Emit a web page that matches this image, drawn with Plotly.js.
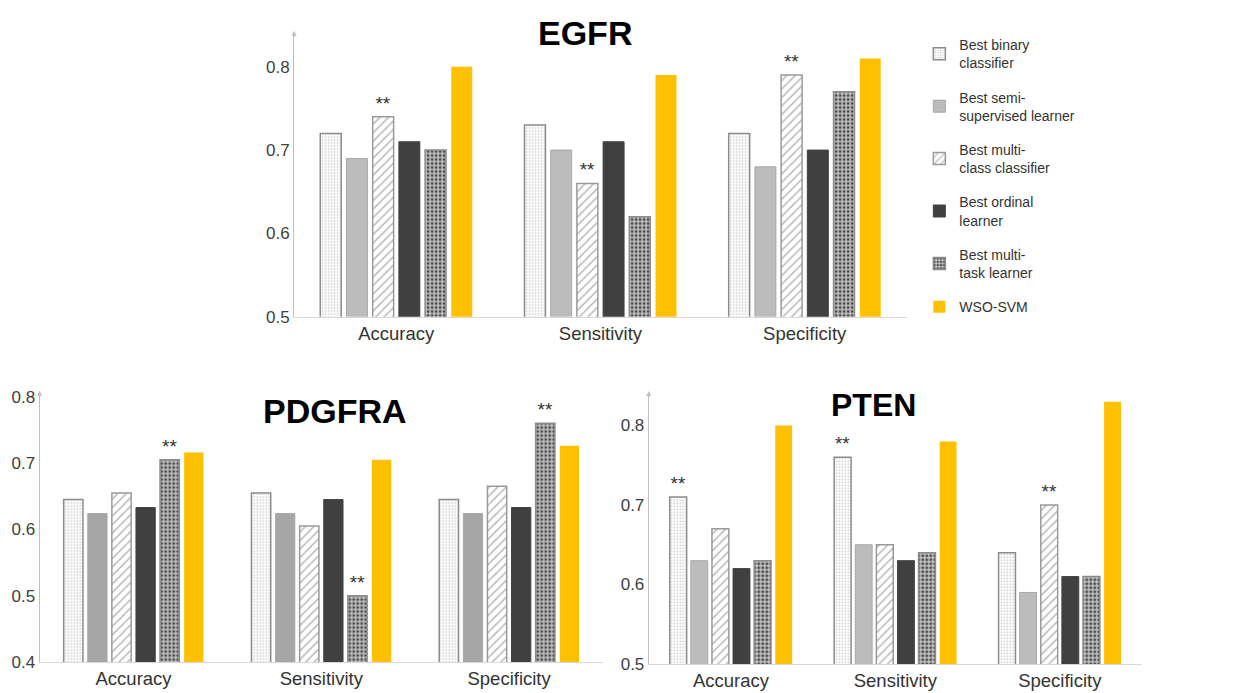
<!DOCTYPE html>
<html><head><meta charset="utf-8">
<script src="https://cdn.plot.ly/plotly-3.0.1.min.js"></script>
<style>html,body{margin:0;padding:0;background:#fff;}#chart{width:1239px;height:693px;}</style>
</head><body><div id="chart"></div>
<script>
const categories = ["Accuracy", "Sensitivity", "Specificity"];
const seriesNames = ["Best binary<br>classifier", "Best semi-<br>supervised learner", "Best multi-<br>class classifier", "Best ordinal<br>learner", "Best multi-<br>task learner", "WSO-SVM"];

// EGFR
const egfrBinary    = [0.72, 0.73, 0.72];
const egfrSemi      = [0.69, 0.70, 0.68];
const egfrMultiClass= [0.74, 0.66, 0.79];
const egfrOrdinal   = [0.71, 0.71, 0.70];
const egfrMultiTask = [0.70, 0.62, 0.77];
const egfrWSO       = [0.80, 0.79, 0.81];
const egfrStars     = [[], [], [0,1,2], [], [], []];

// PDGFRA
const pdgfraBinary    = [0.645, 0.655, 0.645];
const pdgfraSemi      = [0.624, 0.624, 0.624];
const pdgfraMultiClass= [0.655, 0.605, 0.665];
const pdgfraOrdinal   = [0.633, 0.645, 0.633];
const pdgfraMultiTask = [0.705, 0.50, 0.76];
const pdgfraWSO       = [0.716, 0.705, 0.726];
const pdgfraStars     = [[], [], [], [], [0,1,2], []];

// PTEN
const ptenBinary    = [0.71, 0.76, 0.64];
const ptenSemi      = [0.63, 0.65, 0.59];
const ptenMultiClass= [0.67, 0.65, 0.70];
const ptenOrdinal   = [0.62, 0.63, 0.61];
const ptenMultiTask = [0.63, 0.64, 0.61];
const ptenWSO       = [0.80, 0.78, 0.83];
const ptenStars     = [[0,1], [], [2], [], [], []];

const panels = [
  {name:"EGFR", data:[egfrBinary, egfrSemi, egfrMultiClass, egfrOrdinal, egfrMultiTask, egfrWSO], stars:egfrStars, xa:"x", ya:"y", semi:"#bcbcbc"},
  {name:"PDGFRA", data:[pdgfraBinary, pdgfraSemi, pdgfraMultiClass, pdgfraOrdinal, pdgfraMultiTask, pdgfraWSO], stars:pdgfraStars, xa:"x2", ya:"y2", semi:"#a6a6a6"},
  {name:"PTEN", data:[ptenBinary, ptenSemi, ptenMultiClass, ptenOrdinal, ptenMultiTask, ptenWSO], stars:ptenStars, xa:"x3", ya:"y3", semi:"#bcbcbc"}
];

function styleFor(i, semiColor){
  switch(i){
    case 0: return {color:"#ffffff", line:{color:"#8c8c8c", width:1.5}, pattern:{shape:".", fgcolor:"#c4c4c4", bgcolor:"#ffffff", size:3, solidity:0.25}};
    case 1: return {color:semiColor, line:{color:"#a8a8a8", width:1}};
    case 2: return {color:"#ffffff", line:{color:"#9a9a9a", width:1.5}, pattern:{shape:"/", fgcolor:"#b8b8b8", bgcolor:"#ffffff", size:6, solidity:0.25}};
    case 3: return {color:"#404040", line:{color:"#404040", width:1}};
    case 4: return {color:"#ffffff", line:{color:"#8c8c8c", width:1.5}, pattern:{shape:".", fgcolor:"#4a4a4a", bgcolor:"#c8c8c8", size:4, solidity:0.45}};
    default: return {color:"#ffc000", line:{width:0}};
  }
}

const traces = [];
panels.forEach((p, pi) => {
  p.data.forEach((vals, si) => {
    const txt = vals.map((v, k) => p.stars[si].includes(k) ? "**" : "");
    traces.push({
      type:"bar", x:categories, y:vals, name:seriesNames[si],
      xaxis:p.xa, yaxis:p.ya, marker:styleFor(si, p.semi),
      text:txt, textposition:"outside", cliponaxis:false,
      textfont:{family:"Liberation Sans, Arial", size:19, color:"#333"},
      legendgroup:"g"+si, showlegend: pi===0, hoverinfo:"y"
    });
  });
});

const tickFont = {family:"Liberation Sans, Arial", size:17, color:"#404040"};
const catFont = {family:"Liberation Sans, Arial", size:18.5, color:"#333"};
function xax(dom, anchor){ return {domain:dom, anchor:anchor, type:"category", showline:true, linecolor:"#d9d9d9", linewidth:1, showgrid:false, ticks:"", tickfont:catFont, fixedrange:true}; }
function yax(dom, anchor, range, dtick){ return {domain:dom, anchor:anchor, range:range, dtick:dtick, showline:true, linecolor:"#bfbfbf", linewidth:1, showgrid:false, zeroline:false, ticks:"", tickfont:tickFont, tickformat:".1f", fixedrange:true}; }

const layout = {
  width:1239, height:693, margin:{l:0,r:0,t:0,b:0},
  paper_bgcolor:"#fff", plot_bgcolor:"rgba(0,0,0,0)",
  barmode:"group", bargap:0.23, bargroupgap:0.2,
  xaxis: xax([0.2374, 0.7319], "y"),
  yaxis: yax([0.5430, 0.9517], "x", [0.5, 0.84], 0.1),
  xaxis2: xax([0.0320, 0.4867], "y2"),
  yaxis2: yax([0.0447, 0.4322], "x2", [0.4, 0.805], 0.1),
  xaxis3: xax([0.5236, 0.9217], "y3"),
  yaxis3: yax([0.0418, 0.4319], "x3", [0.5, 0.84], 0.1),
  showlegend:true,
  legend:{x:0.742, y:0.958, xanchor:"left", yanchor:"top", traceorder:"grouped", tracegroupgap:13,
          font:{family:"Liberation Sans, Arial", size:14, color:"#333"}, bgcolor:"rgba(0,0,0,0)", itemwidth:30},
  annotations:[
    {text:"<b>EGFR</b>", xref:"paper", yref:"paper", x:585/1239, y:1-33/693, yanchor:"middle", xanchor:"center", showarrow:false, font:{family:"Liberation Sans, Arial", size:34, color:"#000"}},
    {text:"<b>PDGFRA</b>", xref:"paper", yref:"paper", x:335/1239, y:1-411/693, yanchor:"middle", xanchor:"center", showarrow:false, font:{family:"Liberation Sans, Arial", size:34, color:"#000"}},
    {text:"<b>PTEN</b>", xref:"paper", yref:"paper", x:873/1239, y:1-405/693, yanchor:"middle", xanchor:"center", showarrow:false, font:{family:"Liberation Sans, Arial", size:32, color:"#000"}},
    {text:"", xref:"paper", yref:"paper", x:0.2374, y:0.9517+0.004, ax:0, ay:8, showarrow:true, arrowhead:2, arrowsize:1, arrowwidth:1, arrowcolor:"#bfbfbf"},
    {text:"", xref:"paper", yref:"paper", x:0.0320, y:0.4322+0.004, ax:0, ay:8, showarrow:true, arrowhead:2, arrowsize:1, arrowwidth:1, arrowcolor:"#bfbfbf"},
    {text:"", xref:"paper", yref:"paper", x:0.5236, y:0.4319+0.004, ax:0, ay:8, showarrow:true, arrowhead:2, arrowsize:1, arrowwidth:1, arrowcolor:"#bfbfbf"}
  ]
};

Plotly.newPlot("chart", traces, layout, {displayModeBar:false, staticPlot:true});
</script></body></html>
